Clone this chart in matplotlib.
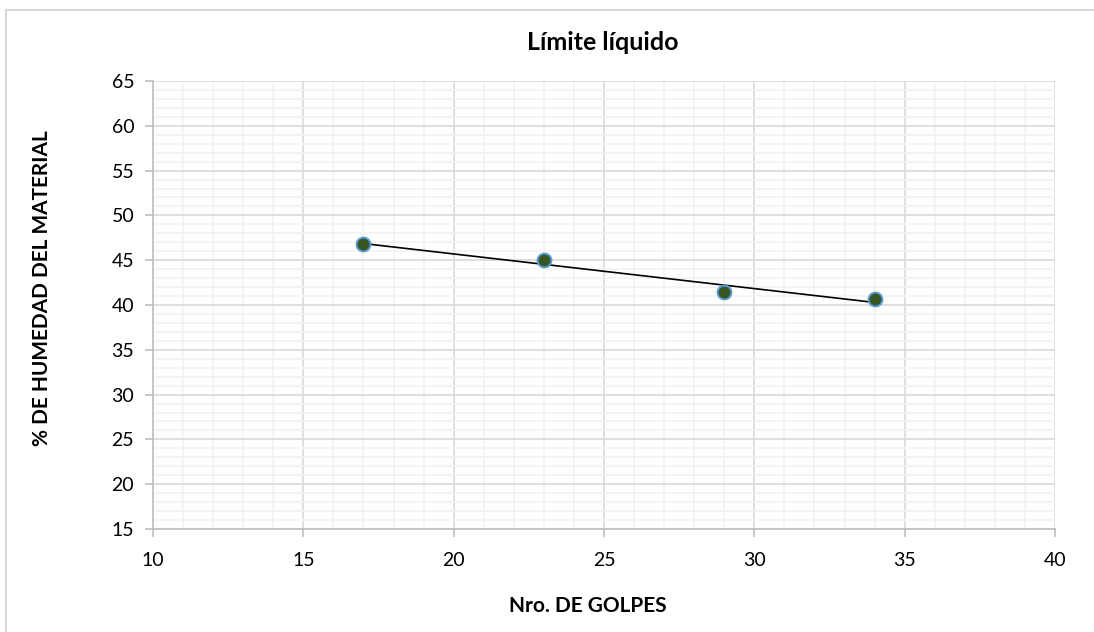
import numpy as np
import matplotlib
matplotlib.use("Agg")
import matplotlib.pyplot as plt
from matplotlib.ticker import MultipleLocator
from matplotlib.patches import Rectangle

plt.rcParams['font.family'] = ['Lato', 'DejaVu Sans']

# Datos del ensayo de límite líquido
golpes = [17, 23, 29, 34]
humedad = [46.8, 45.0, 41.4, 40.7]

# linea de tendencia lineal (como en Excel)
coef = np.polyfit(golpes, humedad, 1)
x_tend = np.array([min(golpes), max(golpes)])
y_tend = np.polyval(coef, x_tend)

W, H = 1094, 632
fig = plt.figure(figsize=(W / 100, H / 100), dpi=100)
ax = fig.add_axes([153 / W, 1 - 529 / H, (1055 - 153) / W, (529 - 81) / H])

# marco del grafico
fig.patches.append(Rectangle((6 / W, -0.1), 1.2, 1 - 10 / H + 0.1,
                             transform=fig.transFigure, fill=False,
                             edgecolor="#d9d9d9", linewidth=1.5))

ax.plot(x_tend, y_tend, color="black", linewidth=1.2, zorder=3)
ax.plot(golpes, humedad, linestyle="none", marker="o", markersize=10,
        markerfacecolor="#375623", markeredgecolor="#5b9bd5",
        markeredgewidth=1.4, zorder=4)

ax.set_xlim(10, 40)
ax.set_ylim(15, 65)
ax.xaxis.set_major_locator(MultipleLocator(5))
ax.xaxis.set_minor_locator(MultipleLocator(1))
ax.yaxis.set_major_locator(MultipleLocator(5))
ax.yaxis.set_minor_locator(MultipleLocator(1))

ax.grid(which="major", color="#d9d9d9", linewidth=1.2, zorder=0)
ax.grid(which="minor", color="#f2f2f2", linewidth=1.2, zorder=0)
ax.set_axisbelow(True)

for s in ["top", "right"]:
    ax.spines[s].set_visible(False)
for s in ["left", "bottom"]:
    ax.spines[s].set_color("#bfbfbf")
    ax.spines[s].set_linewidth(1.2)

ax.tick_params(axis="x", which="major", pad=11)
ax.tick_params(axis="y", which="major", pad=8)
ax.tick_params(which="major", length=5.5, width=1.2, color="#bfbfbf",
               labelsize=14, labelcolor="black")
ax.tick_params(which="minor", length=0)

fig.text(603 / W, 1 - 42 / H, "Límite líquido", fontsize=18, fontweight="bold",
         ha="center", va="center")
fig.text(588 / W, 1 - 606 / H, "Nro. DE GOLPES", fontsize=15, fontweight="bold",
         ha="center", va="center")
fig.text(42 / W, 1 - 288 / H, "% DE HUMEDAD DEL MATERIAL", fontsize=15,
         fontweight="bold", ha="center", va="center", rotation=90)

fig.savefig("out.png", dpi=100)
